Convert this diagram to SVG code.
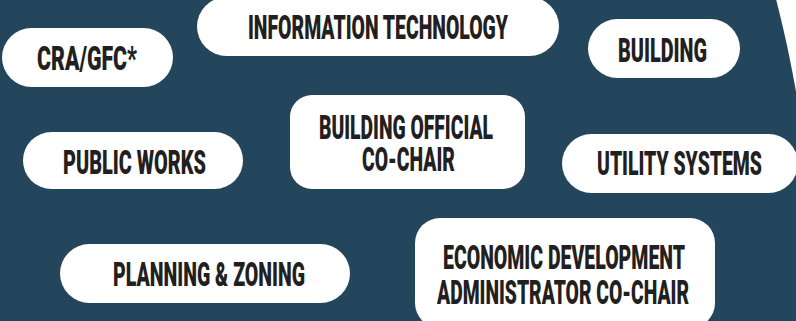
<svg xmlns="http://www.w3.org/2000/svg" width="796" height="321" viewBox="0 0 796 321">
  <style>
    .pill { fill: #ffffff; }
    .label { font-family: Roboto, "Liberation Sans", sans-serif; font-weight: 900; font-size: 32.5px; fill: #231f20; text-anchor: middle; }
  </style>
  <!-- white page with the dark blue field whose right edge curves away at the top -->
  <rect x="0" y="0" width="796" height="321" fill="#ffffff"/>
  <path d="M-5,-5 H775 C784,30 792,66 800,115 V330 H-5 Z" fill="#24465c"/>

  <g id="connectors"></g>

  <g id="node-it">
    <rect class="pill" x="197" y="-3" width="362" height="59" rx="29.5"/>
    <text class="label" x="378" y="39" textLength="260" lengthAdjust="spacingAndGlyphs">INFORMATION TECHNOLOGY</text>
  </g>
  <g id="node-cra">
    <rect class="pill" x="2" y="28" width="171" height="59" rx="29.5"/>
    <text class="label" x="87" y="70" textLength="100" lengthAdjust="spacingAndGlyphs">CRA/GFC*</text>
  </g>
  <g id="node-building">
    <rect class="pill" x="588" y="19" width="152" height="59" rx="29.5"/>
    <text class="label" x="662.5" y="62" textLength="89" lengthAdjust="spacingAndGlyphs">BUILDING</text>
  </g>
  <g id="node-building-official">
    <rect class="pill" x="290" y="95" width="235" height="94" rx="22"/>
    <text class="label" x="406" y="139" textLength="174" lengthAdjust="spacingAndGlyphs">BUILDING OFFICIAL</text>
    <text class="label" x="408.5" y="171" textLength="93" lengthAdjust="spacingAndGlyphs">CO-CHAIR</text>
  </g>
  <g id="node-public-works">
    <rect class="pill" x="23" y="132" width="220" height="57" rx="28.5"/>
    <text class="label" x="134.5" y="174" textLength="143" lengthAdjust="spacingAndGlyphs">PUBLIC WORKS</text>
  </g>
  <g id="node-utility">
    <rect class="pill" x="562" y="134" width="236" height="59" rx="29.5"/>
    <text class="label" x="679.5" y="175" textLength="165" lengthAdjust="spacingAndGlyphs">UTILITY SYSTEMS</text>
  </g>
  <g id="node-planning">
    <rect class="pill" x="60" y="244" width="290" height="59" rx="29.5"/>
    <text class="label" x="209" y="286" textLength="192" lengthAdjust="spacingAndGlyphs">PLANNING &amp; ZONING</text>
  </g>
  <g id="node-econ-dev">
    <rect class="pill" x="415" y="218" width="300" height="110" rx="25"/>
    <text class="label" x="564" y="269" textLength="242" lengthAdjust="spacingAndGlyphs">ECONOMIC DEVELOPMENT</text>
    <text class="label" x="563" y="304" textLength="252" lengthAdjust="spacingAndGlyphs">ADMINISTRATOR CO-CHAIR</text>
  </g>
</svg>
